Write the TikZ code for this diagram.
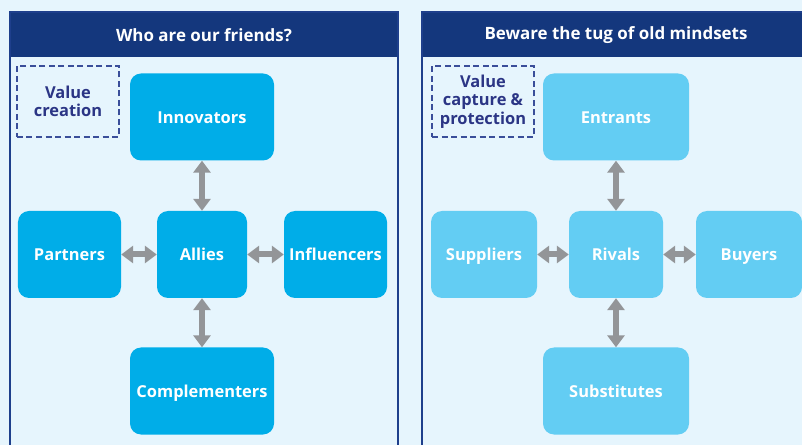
\documentclass[tikz,border=0pt]{standalone}
\usepackage{fontspec}
\setmainfont{Open Sans}
\usetikzlibrary{arrows.meta}
\definecolor{bg}{HTML}{E6F5FD}
\definecolor{navy}{HTML}{14377D}
\definecolor{frame}{HTML}{1E3F8C}
\definecolor{dashc}{HTML}{3A4E9A}
\definecolor{labc}{HTML}{2B3585}
\definecolor{cyanA}{HTML}{00ADE8}
\definecolor{cyanB}{HTML}{63CDF3}
\definecolor{arrowc}{HTML}{939598}
\tikzset{
  x=1bp, y=-1bp,
  box/.style={rounded corners=11bp, inner sep=0pt, text=white,
    font=\bfseries\fontsize{16.5}{18}\selectfont, minimum height=87bp,
    text height=14bp, text depth=1bp},
  friendbox/.style={box, fill=cyanA},
  rivalbox/.style={box, fill=cyanB},
  tagbox/.style={draw=dashc, line width=1.3bp, dash pattern=on 6bp off 3.5bp,
    inner sep=0pt, text=labc, align=center,
    font=\bfseries\fontsize{16.5}{18.5}\selectfont},
  headtext/.style={text=white, font=\bfseries\fontsize{17}{19}\selectfont},
  link/.style={draw=arrowc, line width=6bp,
    {Triangle[length=12bp,width=17bp]}-{Triangle[length=12bp,width=17bp]}},
}
\begin{document}
\begin{tikzpicture}
% page
\fill[bg] (0,0) rectangle (802,445);
\useasboundingbox (0,0) rectangle (802,445);

% left panel
\fill[navy] (10,12) rectangle (398,57);
\draw[frame, line width=1.5bp] (10,460) -- (10,12) -- (398,12) -- (398,460);
\node[headtext] (lhead) at (204,35.5) {Who are our friends?};

% right panel
\fill[navy] (422,12) rectangle (820,57);
\draw[frame, line width=1.5bp] (422,460) -- (422,12) -- (820,12);
\node[headtext] (rhead) at (616,35.5) {Beware the tug of old mindsets};

% value-creation side
\node[tagbox, minimum width=102bp, minimum height=71bp] (vc) at (68,101.5) {Value\\creation};
\node[friendbox, minimum width=144bp] (innov) at (202,117) {Innovators};
\node[friendbox, minimum width=103bp] (partners) at (69.5,254.5) {Partners};
\node[friendbox, minimum width=90bp] (allies) at (202,254.5) {Allies};
\node[friendbox, minimum width=103bp] (influ) at (335.5,254.5) {Influencers};
\node[friendbox, minimum width=144bp] (compl) at (202,391) {Complementers};

\draw[link] (innov.south) -- (allies.north);
\draw[link] (allies.south) -- (compl.north);
\draw[link] (partners.east) -- (allies.west);
\draw[link] (allies.east) -- (influ.west);

% value-capture side
\node[tagbox, minimum width=102bp, minimum height=71bp] (vcp) at (483,101.5) {Value\\capture \&\\protection};
\node[rivalbox, minimum width=146bp] (entr) at (616,117) {Entrants};
\node[rivalbox, minimum width=106bp] (supp) at (484,254.5) {Suppliers};
\node[rivalbox, minimum width=94bp] (rivals) at (616,254.5) {Rivals};
\node[rivalbox, minimum width=106bp] (buyers) at (749,254.5) {Buyers};
\node[rivalbox, minimum width=146bp] (subs) at (616,391) {Substitutes};

\draw[link] (entr.south) -- (rivals.north);
\draw[link] (rivals.south) -- (subs.north);
\draw[link] (supp.east) -- (rivals.west);
\draw[link] (rivals.east) -- (buyers.west);
\end{tikzpicture}
\end{document}
